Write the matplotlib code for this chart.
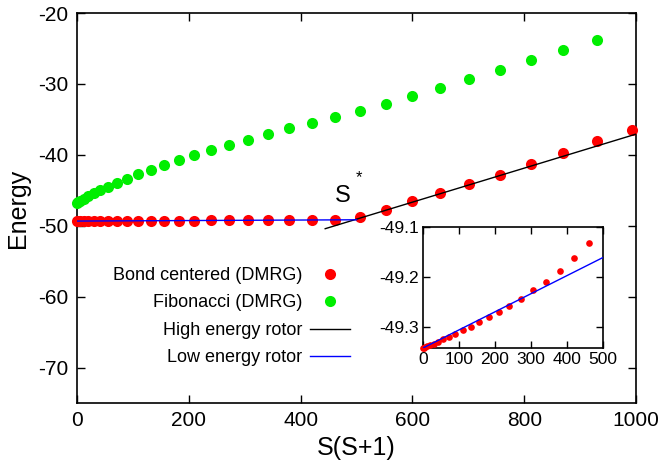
import matplotlib
matplotlib.use("Agg")
import matplotlib.pyplot as plt

plt.rcParams['font.family'] = ['Liberation Sans', 'DejaVu Sans']

# S(S+1) values
ss_bond = [0, 2, 6, 12, 20, 30, 42, 56, 72, 90, 110, 132, 156, 182, 210, 240,
           272, 306, 342, 380, 420, 462, 506, 552, 600, 650, 702, 756, 812,
           870, 930, 992]
e_bond = [-49.342, -49.341, -49.340, -49.338, -49.336, -49.333, -49.329,
          -49.324, -49.319, -49.313, -49.305, -49.299, -49.290, -49.280,
          -49.269, -49.257, -49.243, -49.227, -49.209, -49.188, -49.163,
          -49.131, -48.82, -47.74, -46.50, -45.43, -44.15, -42.78, -41.32,
          -39.72, -38.02, -36.46]

ss_fib = [0, 2, 6, 12, 20, 30, 42, 56, 72, 90, 110, 132, 156, 182, 210, 240,
          272, 306, 342, 380, 420, 462, 506, 552, 600, 650, 702, 756, 812,
          870, 930]
e_fib = [-46.80, -46.65, -46.45, -46.23, -45.81, -45.43, -45.01, -44.55,
         -44.00, -43.45, -42.77, -42.10, -41.38, -40.74, -40.00, -39.29,
         -38.58, -37.88, -37.08, -36.27, -35.52, -34.67, -33.77, -32.78,
         -31.75, -30.57, -29.29, -27.97, -26.60, -25.19, -23.77]

high_x = [444, 1000]
high_e = [-50.42, -37.08]
low_x = [0, 500]
low_e = [-49.342, -49.161]

x_ticks = [0, 200, 400, 600, 800, 1000]
y_ticks = [-70, -60, -50, -40, -30, -20]
inset_x_ticks = [0, 100, 200, 300, 400, 500]
inset_y_ticks = [-49.3, -49.2, -49.1]

RED = '#ff0000'
GREEN = '#00ee00'
BLUE = '#0000ff'

fig = plt.figure(figsize=(6.63, 4.68), dpi=100)
ax = fig.add_axes([77/663, 1 - 403/468, (636-77)/663, (403-13)/468])

ax.plot(ss_bond, e_bond, 'o', color=RED, ms=8, mec='none', clip_on=False,
        label='Bond centered (DMRG)', zorder=3)
ax.plot(ss_fib, e_fib, 'o', color=GREEN, ms=8, mec='none', clip_on=False,
        label='Fibonacci (DMRG)', zorder=3)
ax.plot(high_x, high_e, '-', color='black', lw=1, label='High energy rotor', zorder=4)
ax.plot(low_x, low_e, '-', color=BLUE, lw=1, label='Low energy rotor', zorder=4)

ax.set_xlim(0, 1000)
ax.set_ylim(-75, -20)
ax.set_xticks(x_ticks)
ax.set_yticks(y_ticks)
ax.set_xticklabels([str(v) for v in x_ticks])
ax.set_yticklabels([str(v) for v in y_ticks])
ax.tick_params(direction='in', top=True, right=True, length=6, width=1,
               labelsize=15, pad=6)
for s in ax.spines.values():
    s.set_linewidth(1.2)
ax.set_xlabel('S(S+1)', fontsize=18, labelpad=4)
ax.set_ylabel('Energy', fontsize=18, labelpad=6)

ax.text(461, -46.66, 'S', fontsize=17, ha='left', va='baseline')
ax.annotate('*', xy=(461, -46.66), xytext=(15, 14), textcoords='offset points',
            fontsize=12, ha='left', va='baseline')

leg = ax.legend(loc='upper right', bbox_to_anchor=(350/663, 1 - 267/468),
                bbox_transform=fig.transFigure, frameon=False, markerfirst=False,
                fontsize=13, handlelength=2.2, handletextpad=0.45,
                labelspacing=0.58, borderpad=0, borderaxespad=0, numpoints=1,
                markerscale=1.0)

# inset
axi = fig.add_axes([423/663, 1 - 348/468, (603-423)/663, (348-227)/468])
n_in = sum(1 for v in ss_bond if v <= 500)
axi.plot(ss_bond[:n_in], e_bond[:n_in], 'o', color=RED, ms=4.8, mec='none',
         clip_on=False, zorder=3)
axi.plot(low_x, low_e, '-', color=BLUE, lw=1, zorder=4)
axi.set_xlim(0, 500)
axi.set_ylim(-49.342, -49.1)
axi.set_xticks(inset_x_ticks)
axi.set_yticks(inset_y_ticks)
axi.set_xticklabels([str(v) for v in inset_x_ticks])
axi.set_yticklabels(['%.1f' % v for v in inset_y_ticks])
axi.tick_params(direction='in', top=True, right=True, length=5, width=1,
                labelsize=12.5, pad=3)
for s in axi.spines.values():
    s.set_linewidth(1.2)

fig.savefig('out.png', dpi=100)
